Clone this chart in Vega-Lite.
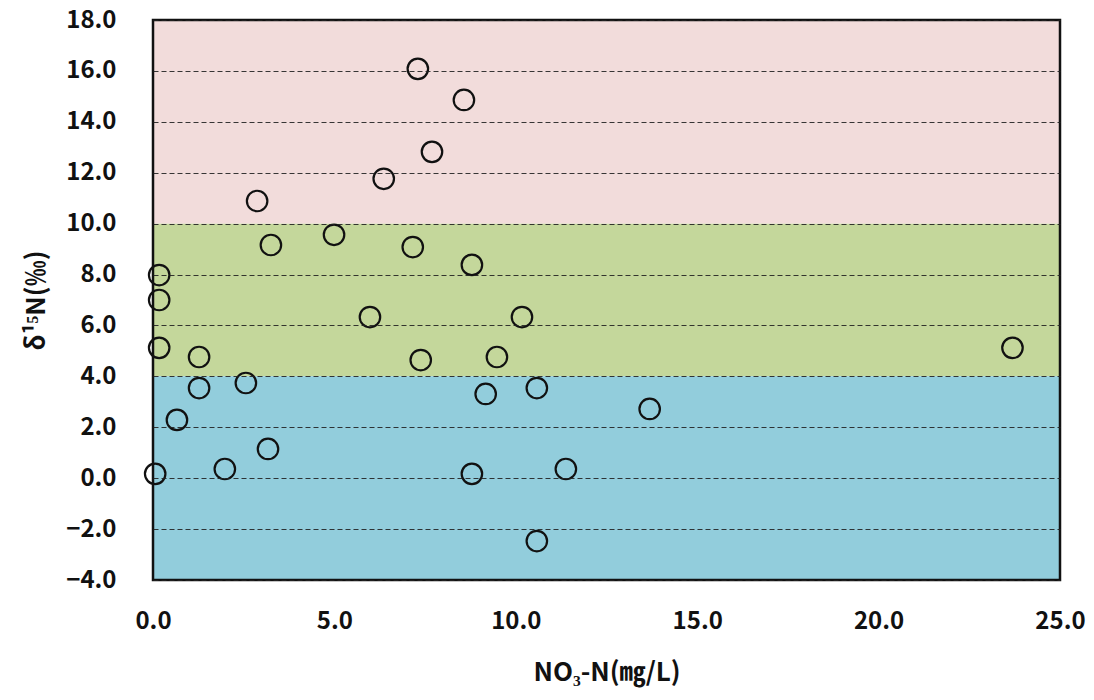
{
  "$schema": "https://vega.github.io/schema/vega-lite/v6.json",
  "width": 907,
  "height": 560,
  "autosize": {"type": "none"},
  "padding": {"left": 153, "top": 20, "right": 34, "bottom": 120},
  "background": "white",
  "config": {
    "view": {"stroke": null},
    "font": "Noto Sans CJK KR"
  },
  "datasets": {
    "bands": [
      {"lo": 10, "hi": 18, "zone": "high"},
      {"lo": 4, "hi": 10, "zone": "mid"},
      {"lo": -4, "hi": 4, "zone": "low"}
    ],
    "pts": [
      {"no3": 7.3, "d15n": 16.08},
      {"no3": 8.57, "d15n": 14.86},
      {"no3": 7.69, "d15n": 12.82},
      {"no3": 6.36, "d15n": 11.76},
      {"no3": 2.87, "d15n": 10.89},
      {"no3": 3.25, "d15n": 9.16},
      {"no3": 4.99, "d15n": 9.56},
      {"no3": 7.16, "d15n": 9.08},
      {"no3": 8.79, "d15n": 8.38},
      {"no3": 0.17, "d15n": 7.98},
      {"no3": 0.17, "d15n": 7.0},
      {"no3": 5.98, "d15n": 6.33},
      {"no3": 10.17, "d15n": 6.33},
      {"no3": 0.17, "d15n": 5.12},
      {"no3": 23.69, "d15n": 5.12},
      {"no3": 1.27, "d15n": 4.76},
      {"no3": 7.38, "d15n": 4.64},
      {"no3": 9.48, "d15n": 4.76},
      {"no3": 2.56, "d15n": 3.74},
      {"no3": 1.27, "d15n": 3.54},
      {"no3": 9.17, "d15n": 3.31},
      {"no3": 10.58, "d15n": 3.54},
      {"no3": 13.69, "d15n": 2.72},
      {"no3": 0.66, "d15n": 2.29},
      {"no3": 3.17, "d15n": 1.15},
      {"no3": 0.06, "d15n": 0.17},
      {"no3": 1.98, "d15n": 0.36},
      {"no3": 8.79, "d15n": 0.17},
      {"no3": 11.38, "d15n": 0.36},
      {"no3": 10.58, "d15n": -2.47}
    ],
    "frame": [{"x0": 0, "x1": 25, "y0": -4, "y1": 18}]
  },
  "layer": [
    {
      "data": {"name": "bands"},
      "mark": {"type": "rect"},
      "encoding": {
        "x": {"datum": 0, "type": "quantitative"},
        "x2": {"datum": 25},
        "y": {"field": "lo", "type": "quantitative"},
        "y2": {"field": "hi"},
        "fill": {
          "field": "zone", "type": "nominal", "legend": null,
          "scale": {"domain": ["high", "mid", "low"], "range": ["#F2DCDB", "#C4D79B", "#92CDDC"]}
        }
      }
    },
    {
      "data": {"name": "pts"},
      "mark": {"type": "point", "shape": "circle", "filled": false, "stroke": "#111111", "strokeWidth": 2.2, "size": 420, "opacity": 1},
      "encoding": {
        "x": {
          "field": "no3", "type": "quantitative",
          "scale": {"domain": [0, 25], "nice": false, "zero": false},
          "axis": {
            "values": [0, 5, 10, 15, 20, 25], "format": ".1f",
            "grid": false, "ticks": false, "domain": false,
            "labelPadding": 29, "labelFontSize": 24, "labelFontWeight": "bold", "labelColor": "#111111",
            "title": "NO₃-N(㎎/L)", "titleFontSize": 26, "titleFontWeight": "bold", "titleColor": "#111111",
            "titlePadding": 26, "labelFlush": false
          }
        },
        "y": {
          "field": "d15n", "type": "quantitative",
          "scale": {"domain": [-4, 18], "nice": false, "zero": false},
          "axis": {
            "values": [-4, -2, 0, 2, 4, 6, 8, 10, 12, 14, 16, 18], "format": ".1f",
            "grid": true, "gridColor": "#222222", "gridDash": [5, 3], "gridWidth": 1, "gridOpacity": 0.9,
            "ticks": false, "domain": false, "zindex": 1,
            "labelPadding": 37, "labelFontSize": 24, "labelFontWeight": "bold", "labelColor": "#111111",
            "title": "δ¹⁵N(‰)", "titleFontSize": 26, "titleFontWeight": "bold", "titleColor": "#111111",
            "titlePadding": 16, "labelFlush": false
          }
        }
      }
    },
    {
      "data": {"name": "frame"},
      "mark": {"type": "rect", "fill": null, "stroke": "#111111", "strokeWidth": 2.5},
      "encoding": {
        "x": {"field": "x0", "type": "quantitative"},
        "x2": {"field": "x1"},
        "y": {"field": "y0", "type": "quantitative"},
        "y2": {"field": "y1"}
      }
    }
  ]
}
